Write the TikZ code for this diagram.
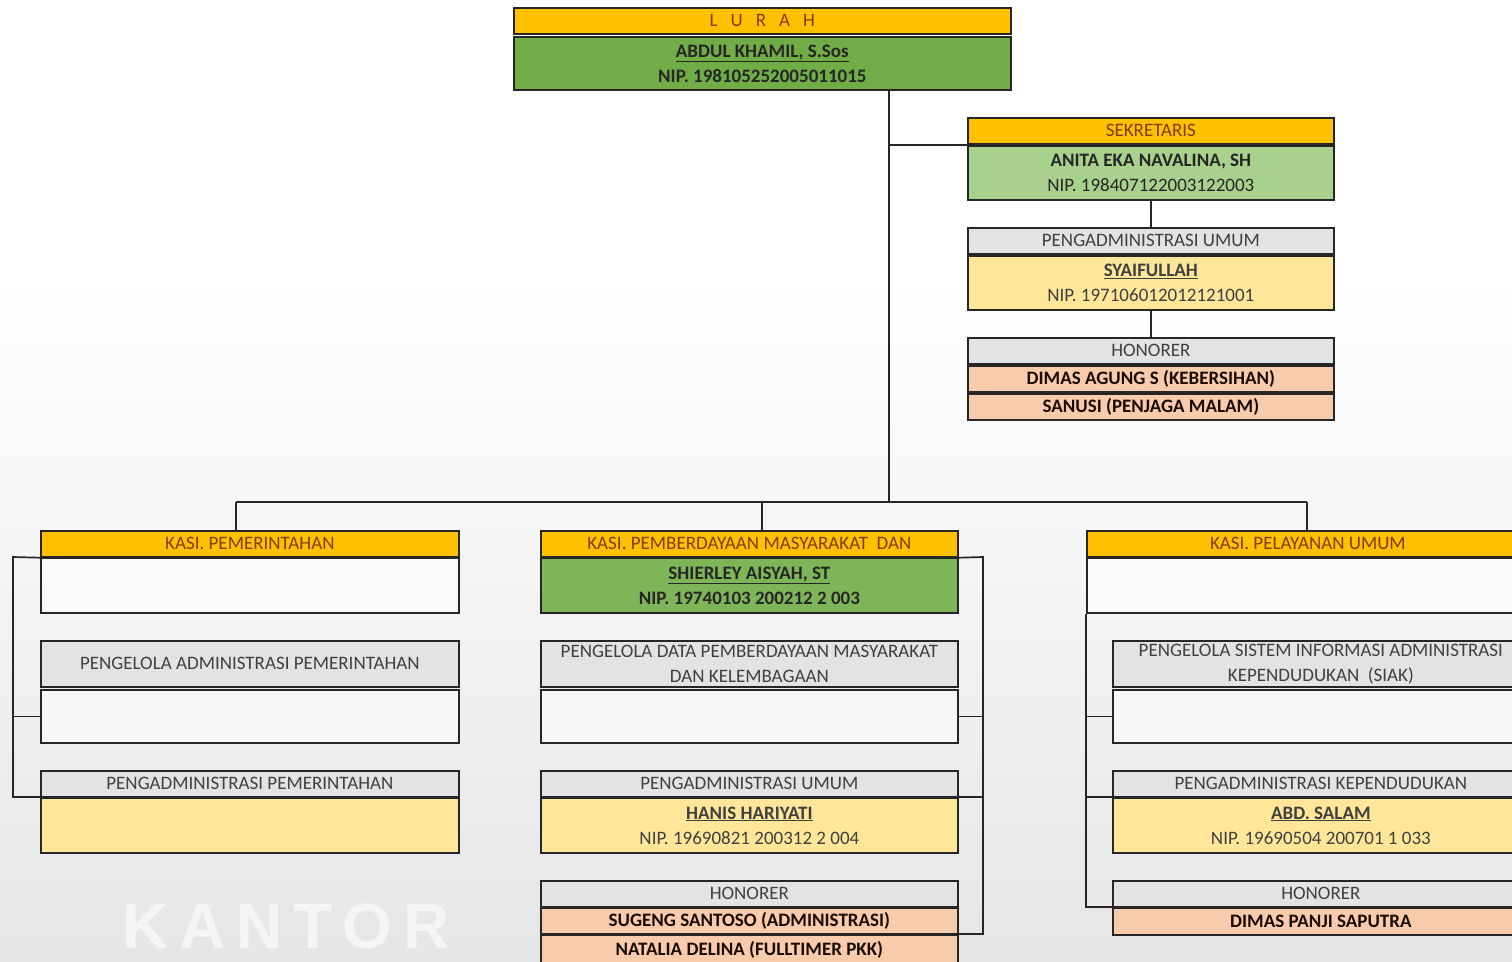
\documentclass[tikz,border=0pt]{standalone}
\usepackage{fontspec}
\setmainfont{Carlito}
\newfontfamily\stampfont{Liberation Sans}
\usepackage{tikz}

\definecolor{kuning}{HTML}{FFC000}
\definecolor{coklat}{HTML}{833C0B}
\definecolor{hijau}{HTML}{70AD47}
\definecolor{hijaumuda}{HTML}{A9D18E}
\definecolor{krem}{HTML}{FFE699}
\definecolor{salem}{HTML}{F8CBAD}
\definecolor{abu}{HTML}{E4E3E3}

\tikzset{
  kotak/.style={draw=black!85, line width=1.7pt, anchor=north west, inner sep=0pt,
    align=center, font=\fontsize{19}{25}\selectfont},
  judul/.style={kotak, fill=kuning, text=coklat},
  jabatan/.style={kotak, fill=abu, text=black!75},
  kosong/.style={kotak, fill=white, fill opacity=0.55, text opacity=1},
  pejabat/.style={kotak, fill=hijau, text=black!85, font=\fontsize{19}{25}\selectfont\bfseries},
  staf/.style={kotak, fill=krem, text=black!75},
  honor/.style={kotak, fill=salem, text=black!80!coklat, font=\fontsize{19}{25}\selectfont\bfseries}
}

\begin{document}
\begin{tikzpicture}[x=1pt,y=-1pt]
\useasboundingbox (0,0) rectangle (1512,961);
\clip (0,0) rectangle (1512,961);
\shade[top color=white, bottom color=black!10] (0,280) rectangle (1512,961);
\fill[white] (0,0) rectangle (1512,280);
\node[text=white!96!black, font=\stampfont\bfseries\fontsize{64}{64}\selectfont] (kantor) at (286,926) {K\,A\,N\,T\,O\,R};

% lurah
\node[judul, minimum width=497pt, minimum height=26pt] (lurahH) at (513,7) {L\hskip13pt U\hskip13pt R\hskip13pt A\hskip13pt H};
\node[pejabat, minimum width=497pt, minimum height=53pt] (lurahB) at (513,36) {\underline{ABDUL KHAMIL, S.Sos}\\NIP. 198105252005011015};

% sekretaris
\node[judul, minimum width=366pt, minimum height=26pt] (sekH) at (967,117) {SEKRETARIS};
\node[pejabat, fill=hijaumuda, minimum width=366pt, minimum height=54pt] (sekB) at (967,145) {ANITA EKA NAVALINA, SH\\\mdseries NIP. 198407122003122003};
\node[jabatan, minimum width=366pt, minimum height=26pt] (pauH) at (967,227) {PENGADMINISTRASI UMUM};
\node[staf, minimum width=366pt, minimum height=54pt] (pauB) at (967,255) {\underline{\textbf{SYAIFULLAH}}\\NIP. 197106012012121001};
\node[jabatan, minimum width=366pt, minimum height=26pt] (honH) at (967,337) {HONORER};
\node[honor, minimum width=366pt, minimum height=26pt] (hon1) at (967,365) {DIMAS AGUNG S (KEBERSIHAN)};
\node[honor, minimum width=366pt, minimum height=26pt] (hon2) at (967,393) {SANUSI (PENJAGA MALAM)};

% kasi pemerintahan
\node[judul, minimum width=418pt, minimum height=26pt] (pemH) at (40,530) {KASI. PEMERINTAHAN};
\node[kosong, minimum width=418pt, minimum height=55pt] (pemB) at (40,557) {};
\node[jabatan, minimum width=418pt, minimum height=46pt] (papH) at (40,640) {PENGELOLA ADMINISTRASI PEMERINTAHAN};
\node[kosong, minimum width=418pt, minimum height=53pt] (papB) at (40,689) {};
\node[jabatan, minimum width=418pt, minimum height=26pt] (padH) at (40,770) {PENGADMINISTRASI PEMERINTAHAN};
\node[staf, minimum width=418pt, minimum height=55pt] (padB) at (40,797) {};

% kasi pemberdayaan
\node[judul, minimum width=417pt, minimum height=26pt] (pmdH) at (540,530) {KASI. PEMBERDAYAAN MASYARAKAT\ \ DAN};
\node[pejabat, fill=hijau!90!white, minimum width=417pt, minimum height=55pt] (pmdB) at (540,557) {\underline{SHIERLEY AISYAH, ST}\\NIP. 19740103 200212 2 003};
\node[jabatan, minimum width=417pt, minimum height=46pt] (pdpH) at (540,640) {PENGELOLA DATA PEMBERDAYAAN MASYARAKAT\\DAN KELEMBAGAAN};
\node[kosong, minimum width=417pt, minimum height=53pt] (pdpB) at (540,689) {};
\node[jabatan, minimum width=417pt, minimum height=26pt] (pumH) at (540,770) {PENGADMINISTRASI UMUM};
\node[staf, minimum width=417pt, minimum height=55pt] (pumB) at (540,797) {\underline{\textbf{HANIS HARIYATI}}\\NIP. 19690821 200312 2 004};
\node[jabatan, minimum width=417pt, minimum height=26pt] (hmH) at (540,880) {HONORER};
\node[honor, minimum width=417pt, minimum height=26pt] (hm1) at (540,907) {SUGENG SANTOSO (ADMINISTRASI)};
\node[honor, minimum width=417pt, minimum height=30pt] (hm2) at (540,934) {\raisebox{3pt}{NATALIA DELINA (FULLTIMER PKK)}};

% kasi pelayanan
\node[judul, minimum width=442pt, minimum height=26pt] (plyH) at (1086,530) {KASI. PELAYANAN UMUM};
\node[kosong, minimum width=442pt, minimum height=55pt] (plyB) at (1086,557) {};
\node[jabatan, minimum width=416pt, minimum height=46pt] (psiH) at (1112,640) {PENGELOLA SISTEM INFORMASI ADMINISTRASI\\KEPENDUDUKAN\ \ (SIAK)};
\node[kosong, minimum width=416pt, minimum height=53pt] (psiB) at (1112,689) {};
\node[jabatan, minimum width=416pt, minimum height=26pt] (pkdH) at (1112,770) {PENGADMINISTRASI KEPENDUDUKAN};
\node[staf, minimum width=416pt, minimum height=55pt] (pkdB) at (1112,797) {\underline{\textbf{ABD. SALAM}}\\NIP. 19690504 200701 1 033};
\node[jabatan, minimum width=416pt, minimum height=26pt] (hrH) at (1112,880) {HONORER};
\node[honor, minimum width=416pt, minimum height=27pt] (hr1) at (1112,907) {DIMAS PANJI SAPUTRA};

% garis
\coordinate (bus) at (889,502);
\coordinate (busL) at (236,502);
\coordinate (busM) at (762,502);
\coordinate (busR) at (1307,502);
\coordinate (kiri) at (13,557);
\coordinate (kanan) at (983,557);
\begin{scope}[line width=1.7pt, draw=black!85]
\draw (lurahB.south -| bus) -- (bus);
\draw (sekH.south west -| bus) -- (sekH.south west);
\draw (sekB.south) -- (pauH.north);
\draw (pauB.south) -- (honH.north);
\draw (busL) -- (busR);
\draw (busL) -- (busL |- pemH.north);
\draw (busM) -- (busM |- pmdH.north);
\draw (busR) -- (busR |- plyH.north);
\draw (pemH.south west) -- (kiri) |- (padB.north west);
\draw (papB.west -| kiri) -- (papB.west);
\draw (pmdH.south east) -- (kanan) |- (hm2.north east);
\draw (pdpB.east) -- (pdpB.east -| kanan);
\draw (pumB.north east) -- (pumB.north east -| kanan);
\draw (plyB.south west) |- (hr1.north west);
\draw (psiB.west -| plyB.west) -- (psiB.west);
\draw (pkdB.north west -| plyB.west) -- (pkdB.north west);
\end{scope}
\end{tikzpicture}
\end{document}
